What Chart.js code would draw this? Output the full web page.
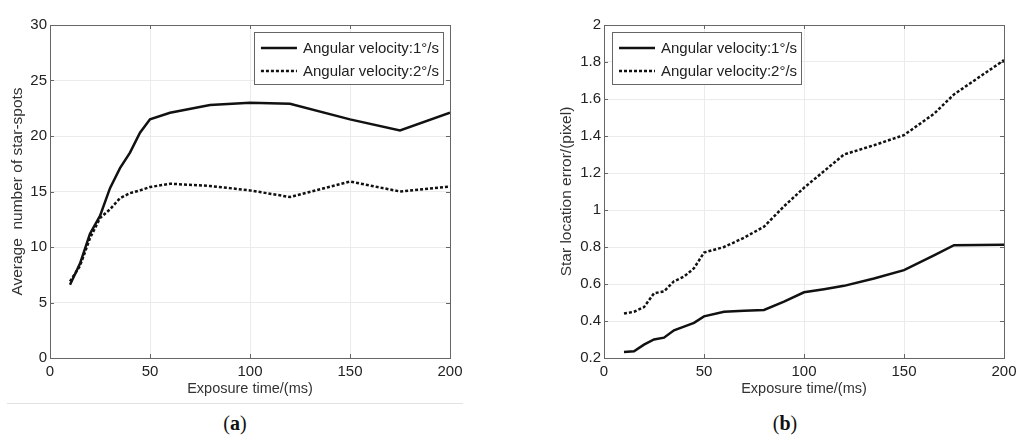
<!DOCTYPE html>
<html>
<head>
<meta charset="utf-8">
<script src="https://cdn.jsdelivr.net/npm/chart.js@4.4.1/dist/chart.umd.min.js"></script>
<style>
  body { margin: 0; background: #fff; width: 1024px; height: 447px; position: relative; overflow: hidden; }
  canvas { position: absolute; top: 0; }
  #chartA { left: 0; }
  #chartB { left: 512px; }
  .tag { position: absolute; top: 412px; font: 20px "Liberation Serif", "Times New Roman", serif; color: #111; transform: translateX(-50%); }
  .tag b { font-weight: bold; }
  .rule { position: absolute; left: 7px; top: 403px; width: 456px; height: 1px; background: #e2e2e2; }
</style>
</head>
<body>
<canvas id="chartA" width="470" height="400"></canvas>
<canvas id="chartB" width="512" height="400"></canvas>
<div class="rule"></div>
<div class="tag" style="left:235px">(<b>a</b>)</div>
<div class="tag" style="left:785px">(<b>b</b>)</div>
<script>
// series labels
const seriesNames = ["Angular velocity:1°/s", "Angular velocity:2°/s"];

// (a) average number of star-spots
const timeA = [10, 15, 20, 25, 30, 35, 40, 45, 50, 60, 80, 100, 120, 150, 175, 200];
const spots1 = [6.6, 8.5, 11.2, 12.8, 15.3, 17.1, 18.5, 20.3, 21.5, 22.1, 22.8, 23.0, 22.9, 21.5, 20.5, 22.1];
const spots2 = [6.9, 8.3, 10.8, 12.6, 13.4, 14.4, 14.85, 15.1, 15.4, 15.7, 15.5, 15.1, 14.5, 15.9, 15.0, 15.45];

// (b) star location error
const timeB = [10, 15, 20, 25, 30, 35, 40, 45, 50, 60, 70, 80, 90, 100, 110, 120, 135, 150, 165, 175, 200];
const err1 = [0.232, 0.236, 0.272, 0.30, 0.31, 0.35, 0.37, 0.39, 0.425, 0.45, 0.455, 0.46, 0.505, 0.555, 0.572, 0.59, 0.63, 0.675, 0.755, 0.81, 0.812];
const err2 = [0.44, 0.45, 0.475, 0.55, 0.56, 0.615, 0.64, 0.685, 0.77, 0.80, 0.85, 0.91, 1.02, 1.12, 1.21, 1.30, 1.35, 1.405, 1.52, 1.625, 1.81];

// tick values
const timeTicks = [0, 50, 100, 150, 200];
const spotTicks = [0, 5, 10, 15, 20, 25, 30];
const errTicks = [0.2, 0.4, 0.6, 0.8, 1, 1.2, 1.4, 1.6, 1.8, 2];

const font = "'Liberation Sans', Arial, sans-serif";
const ink = "#111";

const toPoints = (xs, ys) => xs.map((x, i) => ({ x: x, y: ys[i] }));

// box, inner tick marks and legend drawn the matlab way
const matlabFrame = {
  id: "matlabFrame",
  beforeDatasetsDraw(chart) {
    const { ctx, chartArea: a, scales } = chart;
    const len = 4;
    ctx.save();
    ctx.strokeStyle = "#666";
    ctx.lineWidth = 1;
    ctx.beginPath();
    scales.x.ticks.forEach(t => {
      const px = Math.round(scales.x.getPixelForValue(t.value)) + 0.5;
      ctx.moveTo(px, a.bottom); ctx.lineTo(px, a.bottom - len);
      ctx.moveTo(px, a.top); ctx.lineTo(px, a.top + len);
    });
    scales.y.ticks.forEach(t => {
      const py = Math.round(scales.y.getPixelForValue(t.value)) + 0.5;
      ctx.moveTo(a.left, py); ctx.lineTo(a.left + len, py);
      ctx.moveTo(a.right, py); ctx.lineTo(a.right - len, py);
    });
    ctx.stroke();
    ctx.strokeRect(Math.round(a.left) + 0.5, Math.round(a.top) + 0.5, Math.round(a.width), Math.round(a.height));
    ctx.restore();
  },
  afterDraw(chart, args, opts) {
    const { ctx, chartArea: a } = chart;
    const sets = chart.data.datasets;
    ctx.save();
    ctx.font = "15px " + font;
    const textW = Math.max(...sets.map(d => ctx.measureText(d.label).width));
    const sample = 36, padL = 7, gap = 6, padR = 4, h = 52;
    const w = padL + sample + gap + textW + padR;
    const left = opts.corner === "right" ? a.right - 7 - w : a.left + 8;
    const top = a.top + 7;
    ctx.fillStyle = "#fff";
    ctx.fillRect(left, top, w, h);
    ctx.strokeStyle = "#666";
    ctx.lineWidth = 1;
    ctx.strokeRect(Math.round(left) + 0.5, top + 0.5, Math.round(w), h);
    sets.forEach((d, i) => {
      const y = top + 16 + i * 23;
      ctx.strokeStyle = d.borderColor;
      ctx.lineWidth = d.borderWidth;
      ctx.setLineDash(d.borderDash || []);
      ctx.beginPath();
      ctx.moveTo(left + padL, y);
      ctx.lineTo(left + padL + sample, y);
      ctx.stroke();
      ctx.setLineDash([]);
      ctx.fillStyle = "#222";
      ctx.textBaseline = "middle";
      ctx.fillText(d.label, left + padL + sample + gap, y + 1);
    });
    ctx.restore();
  }
};

function makeChart(id, cfg) {
  const ctx = document.getElementById(id).getContext("2d");
  return new Chart(ctx, {
    type: "line",
    data: {
      datasets: [
        { label: seriesNames[0], data: cfg.s1, borderColor: ink, borderWidth: 2.5, pointRadius: 0, fill: false },
        { label: seriesNames[1], data: cfg.s2, borderColor: ink, borderWidth: 2.5, borderDash: [3, 2], pointRadius: 0, fill: false }
      ]
    },
    options: {
      responsive: false,
      animation: false,
      layout: { padding: { top: 25, right: 20, left: 0, bottom: 0 } },
      plugins: {
        legend: { display: false },
        tooltip: { enabled: false },
        matlabFrame: { corner: cfg.corner }
      },
      scales: {
        x: {
          type: "linear",
          min: 0,
          max: 200,
          afterBuildTicks: s => { s.ticks = timeTicks.map(v => ({ value: v })); },
          afterFit: s => { s.height = 42; },
          grid: { color: "#ebebeb", drawTicks: false },
          border: { display: false },
          ticks: { color: "#222", font: { family: font, size: 15 }, padding: 5, maxRotation: 0, autoSkip: false },
          title: { display: true, text: "Exposure time/(ms)", color: "#333", font: { family: font, size: 14.5 }, padding: { top: 0, bottom: 2 } }
        },
        y: {
          min: cfg.yTicks[0],
          max: cfg.yTicks[cfg.yTicks.length - 1],
          afterBuildTicks: s => { s.ticks = cfg.yTicks.map(v => ({ value: v })); },
          afterFit: s => { s.width = cfg.yWidth; },
          grid: { color: "#ebebeb", drawTicks: false },
          border: { display: false },
          ticks: { color: "#222", font: { family: font, size: 15 }, padding: 3, callback: v => String(v) },
          title: { display: true, text: cfg.yTitle, color: "#333", font: { family: font, size: 15.5 }, padding: { top: cfg.yTitlePad, bottom: 0 } }
        }
      }
    },
    plugins: [matlabFrame]
  });
}

makeChart("chartA", {
  s1: toPoints(timeA, spots1),
  s2: toPoints(timeA, spots2),
  yTicks: spotTicks,
  yWidth: 50,
  yTitle: "Average  number of star-spots",
  yTitlePad: 8,
  corner: "right"
});

makeChart("chartB", {
  s1: toPoints(timeB, err1),
  s2: toPoints(timeB, err2),
  yTicks: errTicks,
  yWidth: 92,
  yTitle: "Star location error/(pixel)",
  yTitlePad: 45,
  corner: "left"
});
</script>
</body>
</html>
